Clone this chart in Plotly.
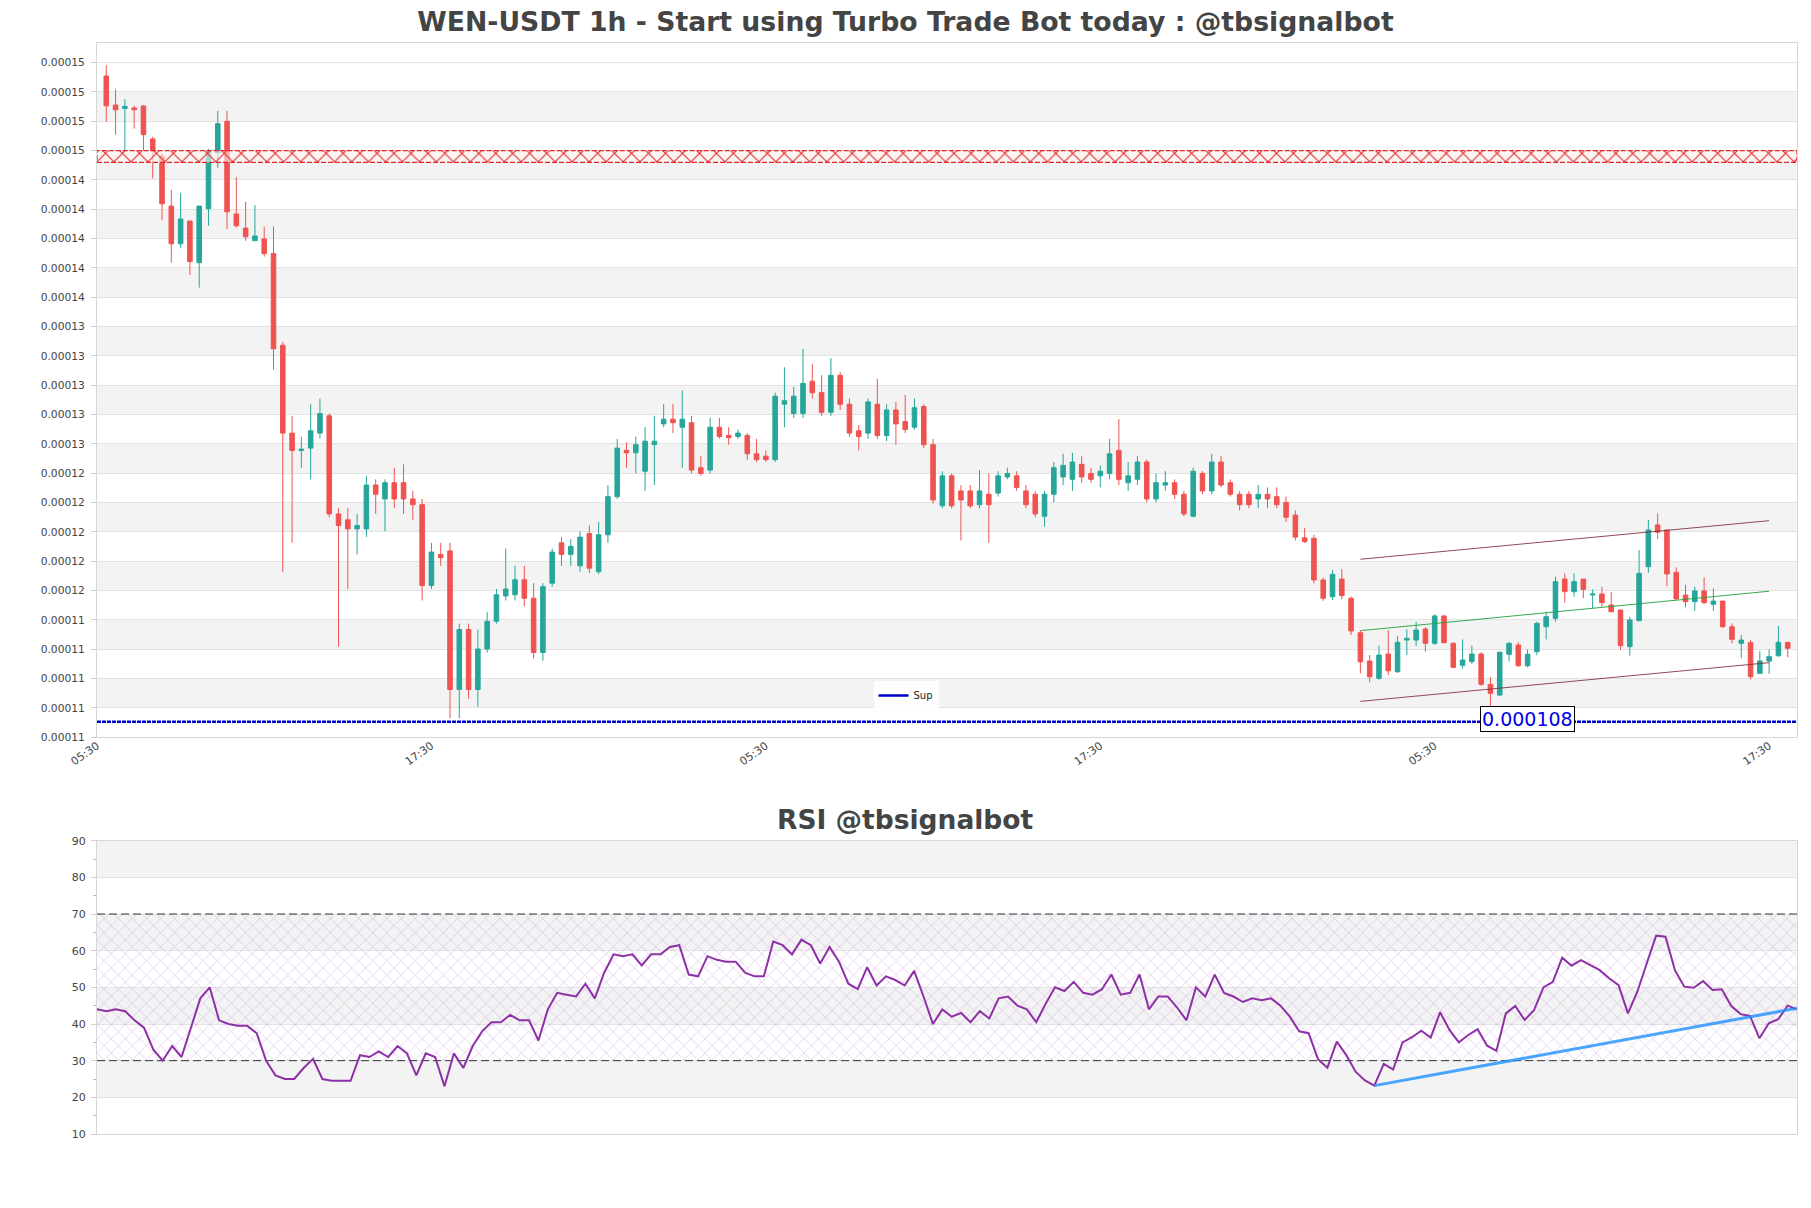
import pandas as pd
import plotly.graph_objects as go

TITLE = "WEN-USDT 1h - Start using Turbo Trade Bot today : @tbsignalbot"
RSI_TITLE = "RSI @tbsignalbot"
START = "2024-06-10 06:30"

OPEN = [151.69e-6, 149.71e-6, 149.48e-6, 149.51e-6, 149.64e-6, 147.40e-6, 146.24e-6, 142.82e-6, 140.25e-6, 141.80e-6,
        138.96e-6, 142.64e-6, 146.46e-6, 148.60e-6, 142.28e-6, 141.32e-6, 140.46e-6, 140.58e-6, 139.58e-6, 133.33e-6,
        127.34e-6, 126.16e-6, 126.32e-6, 127.34e-6, 128.52e-6, 121.83e-6, 121.43e-6, 120.81e-6, 120.81e-6, 123.80e-6,
        122.85e-6, 123.96e-6, 123.96e-6, 122.85e-6, 122.46e-6, 116.95e-6, 119.07e-6, 119.31e-6, 109.86e-6, 113.95e-6,
        109.86e-6, 112.62e-6, 114.51e-6, 116.24e-6, 116.32e-6, 117.34e-6, 116.08e-6, 112.38e-6, 117.11e-6, 119.86e-6,
        119.07e-6, 118.29e-6, 120.49e-6, 117.89e-6, 120.41e-6, 123.01e-6, 126.16e-6, 126.00e-6, 124.74e-6, 126.55e-6,
        127.97e-6, 128.29e-6, 127.74e-6, 128.05e-6, 124.98e-6, 124.82e-6, 127.74e-6, 127.18e-6, 127.11e-6, 127.18e-6,
        125.93e-6, 125.77e-6, 125.53e-6, 129.31e-6, 128.68e-6, 128.68e-6, 130.88e-6, 130.10e-6, 128.76e-6, 131.28e-6,
        129.31e-6, 127.50e-6, 127.34e-6, 129.31e-6, 127.18e-6, 128.92e-6, 128.13e-6, 127.74e-6, 129.15e-6, 126.55e-6,
        122.38e-6, 124.43e-6, 123.40e-6, 123.40e-6, 122.46e-6, 123.17e-6, 123.25e-6, 124.35e-6, 124.43e-6, 123.40e-6,
        123.17e-6, 121.67e-6, 123.17e-6, 124.35e-6, 124.19e-6, 125.21e-6, 124.59e-6, 124.43e-6, 124.59e-6, 126.16e-6,
        123.96e-6, 124.19e-6, 125.37e-6, 122.85e-6, 123.80e-6, 123.96e-6, 123.17e-6, 121.67e-6, 124.59e-6, 123.40e-6,
        125.37e-6, 123.96e-6, 123.17e-6, 123.17e-6, 122.85e-6, 123.17e-6, 123.01e-6, 122.62e-6, 121.75e-6, 120.20e-6,
        120.17e-6, 117.33e-6, 116.19e-6, 117.39e-6, 116.08e-6, 113.73e-6, 111.80e-6, 110.62e-6, 112.28e-6, 111.07e-6,
        113.23e-6, 113.23e-6, 113.98e-6, 113.01e-6, 114.87e-6, 113.01e-6, 111.51e-6, 111.76e-6, 112.28e-6, 110.21e-6,
        109.48e-6, 112.26e-6, 112.89e-6, 111.48e-6, 112.44e-6, 114.14e-6, 114.71e-6, 117.39e-6, 116.53e-6, 117.39e-6,
        116.30e-6, 116.37e-6, 115.62e-6, 115.28e-6, 112.78e-6, 114.55e-6, 118.23e-6, 121.08e-6, 120.74e-6, 117.85e-6,
        116.30e-6, 115.85e-6, 116.58e-6, 115.67e-6, 115.89e-6, 114.14e-6, 113.01e-6, 113.05e-6, 110.96e-6, 111.80e-6,
        112.16e-6, 113.08e-6]

HIGH = [152.43e-6, 150.78e-6, 150.10e-6, 149.66e-6, 149.70e-6, 147.55e-6, 146.42e-6, 143.92e-6, 143.72e-6, 141.80e-6,
        142.82e-6, 146.71e-6, 149.31e-6, 149.31e-6, 144.80e-6, 143.10e-6, 142.89e-6, 141.41e-6, 141.43e-6, 133.56e-6,
        128.52e-6, 127.10e-6, 129.31e-6, 129.70e-6, 128.68e-6, 122.22e-6, 122.22e-6, 121.83e-6, 124.43e-6, 124.19e-6,
        124.19e-6, 124.98e-6, 125.21e-6, 123.40e-6, 122.85e-6, 119.86e-6, 119.86e-6, 119.86e-6, 114.35e-6, 114.35e-6,
        113.95e-6, 115.14e-6, 116.71e-6, 119.47e-6, 118.29e-6, 118.29e-6, 117.11e-6, 117.11e-6, 119.47e-6, 120.25e-6,
        120.10e-6, 120.65e-6, 121.04e-6, 121.28e-6, 123.80e-6, 126.95e-6, 126.71e-6, 127.10e-6, 127.74e-6, 128.52e-6,
        129.31e-6, 129.31e-6, 130.25e-6, 128.52e-6, 125.77e-6, 128.37e-6, 128.37e-6, 127.74e-6, 127.58e-6, 127.34e-6,
        126.95e-6, 126.16e-6, 130.10e-6, 131.83e-6, 130.49e-6, 133.09e-6, 132.07e-6, 131.28e-6, 132.46e-6, 131.51e-6,
        129.70e-6, 127.89e-6, 129.70e-6, 131.04e-6, 129.31e-6, 129.47e-6, 129.94e-6, 129.70e-6, 129.31e-6, 126.95e-6,
        124.74e-6, 124.59e-6, 123.80e-6, 123.80e-6, 124.82e-6, 124.59e-6, 124.74e-6, 124.98e-6, 124.74e-6, 123.80e-6,
        123.40e-6, 123.40e-6, 125.37e-6, 125.93e-6, 126.00e-6, 125.77e-6, 124.98e-6, 125.14e-6, 126.95e-6, 128.29e-6,
        125.37e-6, 125.77e-6, 125.53e-6, 124.59e-6, 124.74e-6, 124.19e-6, 123.40e-6, 124.98e-6, 124.74e-6, 125.93e-6,
        125.77e-6, 124.19e-6, 123.40e-6, 123.40e-6, 123.80e-6, 123.64e-6, 123.64e-6, 123.01e-6, 122.07e-6, 120.87e-6,
        120.40e-6, 117.50e-6, 118.01e-6, 118.06e-6, 116.20e-6, 113.90e-6, 112.21e-6, 112.85e-6, 113.92e-6, 113.51e-6,
        113.96e-6, 114.48e-6, 114.12e-6, 114.99e-6, 114.94e-6, 113.08e-6, 113.28e-6, 112.85e-6, 112.40e-6, 110.69e-6,
        112.44e-6, 113.08e-6, 113.08e-6, 112.60e-6, 114.48e-6, 115.16e-6, 117.55e-6, 117.78e-6, 117.78e-6, 117.39e-6,
        116.69e-6, 116.87e-6, 116.49e-6, 115.28e-6, 114.82e-6, 119.37e-6, 121.42e-6, 121.87e-6, 120.74e-6, 118.19e-6,
        116.99e-6, 116.87e-6, 117.51e-6, 116.76e-6, 115.89e-6, 114.37e-6, 113.58e-6, 113.23e-6, 112.48e-6, 112.60e-6,
        114.19e-6, 113.08e-6]

LOW = [148.57e-6, 147.69e-6, 146.58e-6, 148.10e-6, 146.58e-6, 144.71e-6, 141.87e-6, 138.96e-6, 139.98e-6, 138.12e-6,
       137.26e-6, 141.48e-6, 145.43e-6, 141.25e-6, 141.35e-6, 140.46e-6, 140.46e-6, 139.37e-6, 131.67e-6, 117.89e-6,
       119.86e-6, 124.98e-6, 124.19e-6, 126.95e-6, 121.60e-6, 112.77e-6, 116.71e-6, 119.07e-6, 120.26e-6, 121.83e-6,
       120.65e-6, 122.22e-6, 121.83e-6, 121.43e-6, 115.93e-6, 116.71e-6, 118.29e-6, 107.89e-6, 107.89e-6, 109.23e-6,
       108.68e-6, 112.38e-6, 114.35e-6, 115.93e-6, 115.93e-6, 115.53e-6, 111.99e-6, 111.83e-6, 116.87e-6, 118.29e-6,
       118.29e-6, 117.89e-6, 117.81e-6, 117.74e-6, 119.86e-6, 122.85e-6, 124.98e-6, 124.59e-6, 123.40e-6, 123.80e-6,
       127.74e-6, 127.34e-6, 124.98e-6, 124.59e-6, 124.43e-6, 124.59e-6, 126.95e-6, 126.55e-6, 126.95e-6, 125.53e-6,
       125.37e-6, 125.37e-6, 125.37e-6, 127.74e-6, 128.37e-6, 128.37e-6, 129.70e-6, 128.52e-6, 128.52e-6, 128.92e-6,
       127.11e-6, 126.16e-6, 126.95e-6, 126.95e-6, 126.79e-6, 126.55e-6, 127.34e-6, 127.58e-6, 126.32e-6, 122.54e-6,
       122.22e-6, 122.22e-6, 120.02e-6, 122.22e-6, 122.22e-6, 119.86e-6, 123.01e-6, 124.19e-6, 123.40e-6, 122.22e-6,
       121.60e-6, 120.96e-6, 122.62e-6, 123.80e-6, 123.40e-6, 123.96e-6, 123.96e-6, 123.64e-6, 124.19e-6, 123.80e-6,
       123.40e-6, 123.80e-6, 122.62e-6, 122.62e-6, 123.40e-6, 122.85e-6, 121.67e-6, 121.60e-6, 123.17e-6, 123.17e-6,
       123.64e-6, 123.01e-6, 122.07e-6, 122.22e-6, 122.22e-6, 122.22e-6, 122.22e-6, 121.28e-6, 120.02e-6, 119.85e-6,
       117.10e-6, 115.90e-6, 115.96e-6, 116.01e-6, 113.58e-6, 110.96e-6, 110.35e-6, 110.51e-6, 110.85e-6, 111.00e-6,
       112.21e-6, 112.83e-6, 112.44e-6, 112.89e-6, 113.01e-6, 111.30e-6, 111.30e-6, 111.60e-6, 110.10e-6, 108.46e-6,
       109.42e-6, 111.76e-6, 111.41e-6, 111.37e-6, 112.21e-6, 113.28e-6, 114.48e-6, 115.78e-6, 116.19e-6, 116.08e-6,
       115.40e-6, 115.51e-6, 115.16e-6, 112.55e-6, 112.16e-6, 114.55e-6, 117.82e-6, 120.12e-6, 116.92e-6, 116.01e-6,
       115.46e-6, 115.23e-6, 115.69e-6, 115.23e-6, 114.07e-6, 113.01e-6, 111.99e-6, 110.55e-6, 110.96e-6, 110.92e-6,
       112.10e-6, 112.06e-6]

CLOSE = [149.66e-6, 149.39e-6, 149.62e-6, 149.39e-6, 147.69e-6, 146.58e-6, 142.98e-6, 140.25e-6, 141.94e-6, 139.03e-6,
         142.82e-6, 146.55e-6, 148.44e-6, 142.43e-6, 141.48e-6, 140.73e-6, 140.78e-6, 139.58e-6, 133.09e-6, 127.34e-6,
         126.16e-6, 126.24e-6, 127.50e-6, 128.68e-6, 121.83e-6, 121.04e-6, 120.81e-6, 121.04e-6, 123.80e-6, 123.17e-6,
         123.96e-6, 122.85e-6, 122.85e-6, 122.46e-6, 116.95e-6, 119.23e-6, 118.84e-6, 109.86e-6, 113.95e-6, 109.86e-6,
         112.62e-6, 114.51e-6, 116.32e-6, 116.71e-6, 117.34e-6, 116.08e-6, 112.38e-6, 116.87e-6, 119.23e-6, 119.07e-6,
         119.62e-6, 120.25e-6, 118.13e-6, 120.41e-6, 123.01e-6, 126.32e-6, 126.00e-6, 126.55e-6, 126.79e-6, 126.79e-6,
         128.29e-6, 128.05e-6, 128.29e-6, 124.82e-6, 124.59e-6, 127.74e-6, 127.11e-6, 127.03e-6, 127.34e-6, 125.93e-6,
         125.53e-6, 125.53e-6, 129.86e-6, 129.55e-6, 129.86e-6, 130.73e-6, 130.10e-6, 128.76e-6, 131.28e-6, 129.31e-6,
         127.34e-6, 127.11e-6, 129.47e-6, 127.18e-6, 128.92e-6, 127.97e-6, 127.58e-6, 129.07e-6, 126.55e-6, 122.78e-6,
         124.43e-6, 122.38e-6, 122.78e-6, 122.38e-6, 123.40e-6, 122.46e-6, 124.43e-6, 124.59e-6, 123.64e-6, 122.46e-6,
         121.83e-6, 123.17e-6, 124.98e-6, 125.14e-6, 125.37e-6, 124.35e-6, 124.19e-6, 124.74e-6, 125.93e-6, 124.19e-6,
         124.43e-6, 125.37e-6, 122.85e-6, 123.96e-6, 123.96e-6, 123.17e-6, 121.83e-6, 124.74e-6, 123.40e-6, 125.37e-6,
         123.80e-6, 123.17e-6, 122.46e-6, 122.46e-6, 123.17e-6, 122.85e-6, 122.46e-6, 121.60e-6, 120.25e-6, 119.94e-6,
         117.33e-6, 116.08e-6, 117.71e-6, 116.26e-6, 113.85e-6, 111.75e-6, 110.73e-6, 112.21e-6, 111.14e-6, 113.08e-6,
         113.35e-6, 113.92e-6, 113.01e-6, 114.87e-6, 113.05e-6, 111.37e-6, 111.87e-6, 112.28e-6, 110.21e-6, 109.60e-6,
         112.40e-6, 113.01e-6, 111.48e-6, 112.26e-6, 114.37e-6, 114.82e-6, 117.21e-6, 116.53e-6, 117.21e-6, 116.69e-6,
         116.37e-6, 115.78e-6, 115.16e-6, 112.85e-6, 114.60e-6, 117.78e-6, 120.74e-6, 120.58e-6, 117.74e-6, 116.03e-6,
         115.85e-6, 116.58e-6, 115.78e-6, 115.89e-6, 114.14e-6, 113.28e-6, 113.23e-6, 110.73e-6, 111.80e-6, 112.10e-6,
         113.08e-6, 112.67e-6]

RSI = [44, 43.5, 44, 43.5, 41, 39, 33, 30, 34, 31,
       39, 47, 50, 41, 40, 39.5, 39.5, 37.5, 30, 26,
       25, 25, 28, 30.5, 25, 24.5, 24.5, 24.5, 31.5, 31,
       32.5, 31, 34, 32, 26, 32, 31, 23, 32, 28,
       34, 38, 40.5, 40.5, 42.5, 41, 41, 35.5, 44, 48.5,
       48, 47.5, 51, 47, 54, 59, 58.5, 59, 56, 59,
       59, 61, 61.5, 53.5, 53, 58.5, 57.5, 57, 57, 54,
       53, 53, 62.5, 61.5, 59, 63, 61.5, 56.5, 61, 57,
       51, 49.5, 55.5, 50.5, 53, 52, 50.5, 54.5, 47.5, 40,
       44, 42, 43, 40.5, 43.5, 41.5, 47, 47.5, 45, 44,
       40.5, 45.5, 50, 49, 51.5, 48.5, 48, 49.5, 53.5, 48,
       48.5, 53.5, 44, 47.5, 47.5, 44.5, 41, 50, 47.5, 53.5,
       48.5, 47.5, 46, 47, 46.5, 47, 45, 42, 38, 37.5,
       30.4, 28.1, 35.2, 31.6, 27.0, 24.6, 23.2, 29.1, 27.6, 35.0,
       36.4, 38.2, 36.3, 43.2, 38.4, 35.0, 37.0, 38.6, 34.1, 32.7,
       42.9, 44.9, 41.1, 43.8, 50.0, 51.5, 58.1, 55.9, 57.4, 56.1,
       54.7, 52.5, 50.6, 42.9, 48.8, 56.5, 64.1, 63.8, 54.7, 50.2,
       49.9, 51.7, 49.3, 49.5, 44.9, 42.7, 42.2, 36.1, 40.2, 41.3,
       45.0, 44.0]

Y_TICKS = [106.6e-6, 108.6e-6, 110.6e-6, 112.6e-6, 114.6e-6, 116.6e-6, 118.6e-6, 120.6e-6,
           122.6e-6, 124.6e-6, 126.6e-6, 128.6e-6, 130.6e-6, 132.6e-6, 134.6e-6, 136.6e-6,
           138.6e-6, 140.6e-6, 142.6e-6, 144.6e-6, 146.6e-6, 148.6e-6, 150.6e-6, 152.6e-6]
Y_RANGE = [106.6e-6, 153.94e-6]
RSI_TICKS = [10, 20, 30, 40, 50, 60, 70, 80, 90]

SUPPORT = 107.66e-6
RESIST_ZONE = [145.8e-6, 146.6e-6]

CH_IDX = [135, 179]
CH_UPPER = [118.74e-6, 121.37e-6]
CH_MID = [113.87e-6, 116.56e-6]
CH_LOWER = [109.05e-6, 111.69e-6]

RSI_TREND_IDX = [136, 181]
RSI_TREND = [23.2, 44.3]
RSI_LEVELS = [30, 70]

SUP_LABEL_IDX = 153

# ---------------------------------------------------------------
times = pd.date_range(START, periods=len(OPEN), freq="h")
hour = pd.Timedelta(hours=1)
x_main_range = [times[0] - hour, times[-1] + hour]
x_rsi_range = [times[0], times[-1]]

FONT = "DejaVu Sans"
TXT = "#444444"
GRID = "#e3e3e3"
BAND = "#f3f3f3"

fig = go.Figure()

# candlesticks
fig.add_trace(go.Candlestick(
    x=times, open=OPEN, high=HIGH, low=LOW, close=CLOSE,
    increasing=dict(line=dict(color="#26a69a", width=1), fillcolor="#26a69a"),
    decreasing=dict(line=dict(color="#ef5350", width=1), fillcolor="#ef5350"),
    showlegend=False, xaxis="x", yaxis="y", name="WEN-USDT"))

# resistance zone (hatched)
fig.add_trace(go.Scatter(
    x=[x_main_range[0], x_main_range[1], x_main_range[1], x_main_range[0], x_main_range[0]],
    y=[RESIST_ZONE[0], RESIST_ZONE[0], RESIST_ZONE[1], RESIST_ZONE[1], RESIST_ZONE[0]],
    mode="lines", fill="toself", fillcolor="rgba(255,240,235,0.6)",
    fillpattern=dict(shape="x", fgcolor="#e3262a", fgopacity=1, bgcolor="rgba(255,246,242,0.6)",
                     size=12, solidity=0.17),
    line=dict(color="#e3262a", width=1.2, dash="5px,2px"),
    showlegend=False, hoverinfo="skip", xaxis="x", yaxis="y"))

# support line
fig.add_trace(go.Scatter(
    x=x_main_range, y=[SUPPORT, SUPPORT], mode="lines", name="Sup",
    line=dict(color="#0000cd", width=2.5, dash="4px,1px"),
    showlegend=False, xaxis="x", yaxis="y"))
# legend entry for support line
fig.add_trace(go.Scatter(
    x=[None], y=[None], mode="lines", name="Sup",
    line=dict(color="#0000cd", width=2.5), showlegend=True, xaxis="x", yaxis="y"))

# channel lines
ch_x = [times[CH_IDX[0]], times[CH_IDX[1]]]
fig.add_trace(go.Scatter(x=ch_x, y=CH_UPPER, mode="lines", line=dict(color="rgba(128,40,64,0.85)", width=1),
                         showlegend=False, xaxis="x", yaxis="y"))
fig.add_trace(go.Scatter(x=ch_x, y=CH_MID, mode="lines", line=dict(color="rgba(34,160,60,0.9)", width=1),
                         showlegend=False, xaxis="x", yaxis="y"))
fig.add_trace(go.Scatter(x=ch_x, y=CH_LOWER, mode="lines", line=dict(color="rgba(128,40,64,0.85)", width=1),
                         showlegend=False, xaxis="x", yaxis="y"))

# RSI hatch zone 30-70
fig.add_trace(go.Scatter(
    x=[x_rsi_range[0], x_rsi_range[1], x_rsi_range[1], x_rsi_range[0], x_rsi_range[0]],
    y=[RSI_LEVELS[0], RSI_LEVELS[0], RSI_LEVELS[1], RSI_LEVELS[1], RSI_LEVELS[0]],
    mode="lines", fill="toself", fillcolor="rgba(0,0,0,0)",
    fillpattern=dict(shape="x", fgcolor="rgba(175,115,210,1)", fgopacity=0.55, bgcolor="rgba(0,0,0,0)",
                     size=10, solidity=0.1),
    line=dict(width=0), showlegend=False, hoverinfo="skip", xaxis="x2", yaxis="y2"))

# RSI level lines
for lv in RSI_LEVELS:
    fig.add_trace(go.Scatter(x=x_rsi_range, y=[lv, lv], mode="lines",
                             line=dict(color="#333333", width=1, dash="8px,4px"),
                             showlegend=False, hoverinfo="skip", xaxis="x2", yaxis="y2"))

# RSI line
fig.add_trace(go.Scatter(x=times, y=RSI, mode="lines", line=dict(color="#8e30a6", width=2),
                         showlegend=False, xaxis="x2", yaxis="y2"))

# RSI trend
fig.add_trace(go.Scatter(x=[times[RSI_TREND_IDX[0]], times[RSI_TREND_IDX[1]]], y=RSI_TREND, mode="lines",
                         line=dict(color="rgba(30,144,255,0.8)", width=3),
                         showlegend=False, xaxis="x2", yaxis="y2"))

# background bands
shapes = []
for k in range(1, len(Y_TICKS) - 1, 2):
    shapes.append(dict(type="rect", xref="x domain", x0=0, x1=1, yref="y", y0=Y_TICKS[k], y1=Y_TICKS[k + 1],
                       fillcolor=BAND, line=dict(width=0), layer="below"))
for k in range(1, len(RSI_TICKS) - 1, 2):
    shapes.append(dict(type="rect", xref="x2 domain", x0=0, x1=1, yref="y2", y0=RSI_TICKS[k], y1=RSI_TICKS[k + 1],
                       fillcolor=BAND, line=dict(width=0), layer="below"))

TOP = 43
BOT = 1134
H = 1208
plot_h = BOT - TOP
main_bottom = (BOT - 737.3) / plot_h
rsi_top = (BOT - 840.7) / plot_h

fig.update_layout(
    width=1811, height=1208,
    margin=dict(l=97, r=14, t=TOP, b=H - BOT),
    paper_bgcolor="white", plot_bgcolor="white",
    font=dict(family=FONT, size=11, color=TXT),
    title=dict(text="<b>" + TITLE + "</b>", x=0.5, xanchor="center", xref="container",
               y=1 - 22 / H, yanchor="middle", yref="container",
               font=dict(family=FONT, size=26.7, color=TXT)),
    shapes=shapes,
    showlegend=True,
    legend=dict(orientation="h", x=(906 - 97) / 1700, xanchor="center", y=(BOT - 695.5) / plot_h,
                yanchor="middle", bgcolor="rgba(255,255,255,0.9)", font=dict(size=10, color="#222")),
    xaxis=dict(domain=[0, 1], anchor="y", type="date", range=x_main_range,
               tick0=times[0] - hour, dtick=36 * 3600 * 1000, tickformat="%H:%M", tickangle=-35,
               showgrid=False, showline=True, linecolor="#d6d6d6", mirror=True,
               rangeslider=dict(visible=False), ticks="", ticklabelstandoff=-3,
               tickfont=dict(size=11, color=TXT)),
    yaxis=dict(domain=[main_bottom, 1], anchor="x", range=Y_RANGE, tickvals=Y_TICKS, tickformat=".5f",
               showgrid=True, gridcolor=GRID, zeroline=False, showline=True, linecolor="#d6d6d6",
               mirror=True, ticks="outside", ticklen=5, tickcolor="#d0d0d0", ticklabelstandoff=4,
               tickfont=dict(size=10.7, color=TXT)),
    xaxis2=dict(domain=[0, 1], anchor="y2", type="date", range=x_rsi_range, showticklabels=False,
                showgrid=False, showline=True, linecolor="#d6d6d6", mirror=True, ticks=""),
    yaxis2=dict(domain=[0, rsi_top], anchor="x2", range=[10, 90], tickvals=RSI_TICKS,
                showgrid=True, gridcolor=GRID, zeroline=False, showline=True, linecolor="#d6d6d6",
                mirror=True, ticks="outside", ticklen=5, tickcolor="#d0d0d0", ticklabelstandoff=3,
                minor=dict(dtick=5, tick0=5, ticks="outside", ticklen=3, tickcolor="#bbbbbb", showgrid=False),
                tickfont=dict(size=11, color=TXT)),
    annotations=[
        dict(text="<b>" + RSI_TITLE + "</b>", x=0.5, xref="paper", xanchor="center",
             y=(BOT - 819) / plot_h, yref="paper", yanchor="middle", showarrow=False,
             xshift=905.5 - (97 + 1700 / 2),
             font=dict(family=FONT, size=26.5, color=TXT)),
        dict(text=f"{SUPPORT:.6f}", x=times[SUP_LABEL_IDX], y=SUPPORT, xref="x", yref="y",
             xanchor="center", yanchor="middle", yshift=3, showarrow=False,
             font=dict(family=FONT, size=19, color="#0000ee"),
             bgcolor="white", bordercolor="#000000", borderwidth=1, borderpad=1),
    ],
)

fig.write_html("out.html")
